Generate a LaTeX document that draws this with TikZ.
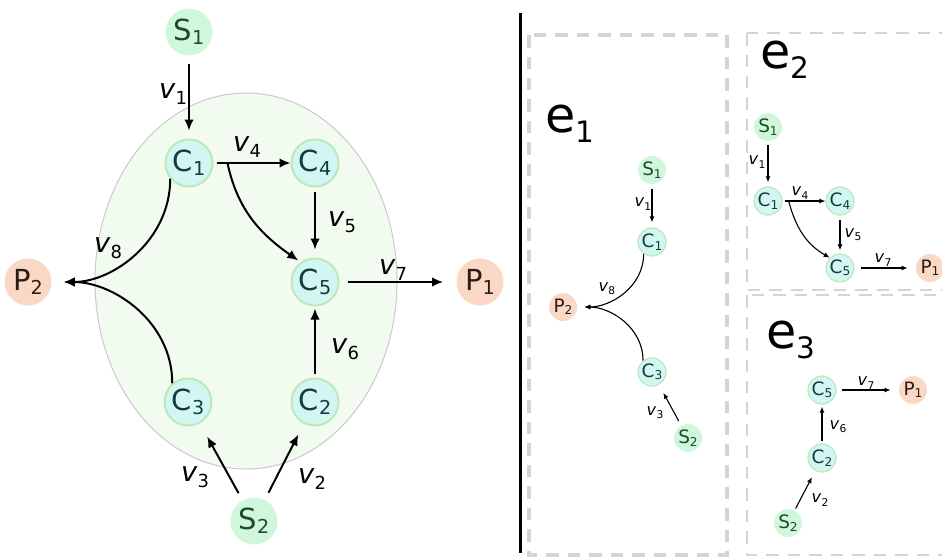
\documentclass[tikz,border=0pt]{standalone}
\usepackage{fontspec}
\setmainfont{DejaVu Sans}
\usetikzlibrary{arrows.meta}
\definecolor{srcfill}{HTML}{D0F6DB}
\definecolor{srctext}{HTML}{1C4A2C}
\definecolor{cfill}{HTML}{D2F7F3}
\definecolor{cline}{HTML}{BEE8B9}
\definecolor{ctext}{HTML}{113C3C}
\definecolor{pfill}{HTML}{FAD8C5}
\definecolor{ptext}{HTML}{2A1D16}
\definecolor{cellfill}{HTML}{F1FBEF}
\definecolor{cellline}{HTML}{CACACA}
\definecolor{boxline}{HTML}{D4D4D4}
\newcommand{\nd}[2]{#1\raisebox{-0.13em}{\scalebox{0.66}{#2}}}
\newcommand{\fl}[1]{\textit{v}\raisebox{-0.2em}{\scalebox{0.66}{#1}}}
\newcommand{\el}[1]{e\raisebox{-0.2em}{\scalebox{0.6}{#1}}}
\begin{document}
\begin{tikzpicture}[x=0.02cm,y=-0.02cm,
  big/.style={circle, inner sep=0pt, minimum size=0.94cm, font=\fontsize{16.5}{19}\selectfont},
  small/.style={circle, inner sep=0pt, minimum size=0.56cm, font=\fontsize{10.5}{12}\selectfont},
  src/.style={fill=srcfill, text=srctext},
  ctr/.style={fill=cfill, draw=cline, text=ctext},
  snk/.style={fill=pfill, text=ptext},
  flow/.style={font=\fontsize{15.5}{18}\selectfont},
  sflow/.style={font=\fontsize{9.2}{11}\selectfont},
  elabel/.style={font=\fontsize{28}{32}\selectfont},
  arr/.style={-{Latex[length=0.22cm,width=0.19cm]}, line width=0.04cm},
  sarr/.style={-{Latex[length=0.12cm,width=0.1cm]}, line width=0.022cm},
  ebox/.style={boxline, dash pattern=on 0.25cm off 0.18cm}]
\useasboundingbox (0,0) rectangle (942,556);

\draw[cellline, fill=cellfill, line width=0.02cm] (246,281) ellipse [x radius=151, y radius=188];
\node[big,src] (S1) at (189,32) {\nd{S}{1}};
\node[big,ctr,line width=0.04cm] (C1) at (189,163) {\nd{C}{1}};
\node[big,ctr,line width=0.04cm] (C4) at (315,163) {\nd{C}{4}};
\node[big,ctr,line width=0.04cm] (C5) at (315,282) {\nd{C}{5}};
\node[big,ctr,line width=0.04cm] (C3) at (188,402) {\nd{C}{3}};
\node[big,ctr,line width=0.04cm] (C2) at (315,402) {\nd{C}{2}};
\node[big,src] (S2) at (254,521) {\nd{S}{2}};
\node[big,snk] (P2) at (28,282) {\nd{P}{2}};
\node[big,snk] (P1) at (480,282) {\nd{P}{1}};
\draw[arr, shorten <=0.16cm, shorten >=0.16cm] (S1) -- (C1);
\draw[arr, shorten <=0.08cm] (C1) -- (C4);
\draw[arr] ([xshift=0.28cm]C1.east) to[out=-78, in=145] ([xshift=-0.04cm,yshift=0.04cm]C5.127);
\draw[arr, shorten <=0.08cm, shorten >=0.16cm] (C4) -- (C5);
\draw[arr, shorten <=0.16cm, shorten >=0.26cm] (C5) -- (P1);
\draw[arr, shorten <=0.08cm, shorten >=0.04cm] (C2) -- (C5);
\draw[arr, shorten >=0.24cm] (C1.220) to[out=-90, in=0] (P2);
\draw[arr, shorten >=0.24cm] (C3.130) to[out=90, in=0] (P2);
\draw[arr, shorten <=0.16cm, shorten >=0.3cm] (S2) -- (C3);
\draw[arr, shorten <=0.16cm, shorten >=0.24cm] (S2) -- (C2);
\node[flow] (v1) at (173,94) {\fl{1}};
\node[flow] (v4) at (247,147) {\fl{4}};
\node[flow] (v5) at (342,222) {\fl{5}};
\node[flow] (v7) at (393,270) {\fl{7}};
\node[flow] (v8) at (108,248) {\fl{8}};
\node[flow] (v6) at (345,349) {\fl{6}};
\node[flow] (v3) at (195,477) {\fl{3}};
\node[flow] (v2) at (312,479) {\fl{2}};

\coordinate (T) at (520,13);
\coordinate (B) at (520,553);
\draw[line width=0.06cm] (T) -- (B);

\draw[ebox, line width=0.08cm] (529,35) rectangle (727,555);
\draw[ebox, line width=0.05cm] (747,33) rectangle (990,290);
\draw[ebox, line width=0.05cm] (747,295) rectangle (990,555);
\node[elabel] (e1) at (570,124) {\el{1}};
\node[elabel] (e2) at (785,60) {\el{2}};
\node[elabel] (e3) at (791,340) {\el{3}};

\node[small,src] (AS1) at (652,170) {\nd{S}{1}};
\node[small,ctr,line width=0.025cm] (AC1) at (652,242) {\nd{C}{1}};
\node[small,snk] (AP2) at (563,307) {\nd{P}{2}};
\node[small,ctr,line width=0.025cm] (AC3) at (652,372) {\nd{C}{3}};
\node[small,src] (AS2) at (688,438) {\nd{S}{2}};
\draw[sarr, shorten <=0.1cm, shorten >=0.1cm] (AS1) -- (AC1);
\draw[sarr, shorten >=0.14cm] (AC1.235) to[out=-90, in=0] (AP2);
\draw[sarr, shorten >=0.14cm] (AC3.128) to[out=90, in=0] (AP2);
\draw[sarr, shorten <=0.1cm, shorten >=0.18cm] (AS2) -- (AC3);
\node[sflow] (av1) at (643,204) {\fl{1}};
\node[sflow] (av8) at (607,289) {\fl{8}};
\node[sflow] (av3) at (655,413) {\fl{3}};

\node[small,src] (BS1) at (768,127) {\nd{S}{1}};
\node[small,ctr,line width=0.025cm] (BC1) at (768,201) {\nd{C}{1}};
\node[small,ctr,line width=0.025cm] (BC4) at (840,201) {\nd{C}{4}};
\node[small,ctr,line width=0.025cm] (BC5) at (840,268) {\nd{C}{5}};
\node[small,snk] (BP1) at (930,268) {\nd{P}{1}};
\draw[sarr, shorten <=0.08cm, shorten >=0.08cm] (BS1) -- (BC1);
\draw[sarr, shorten <=0.04cm] (BC1) -- (BC4);
\draw[sarr] ([xshift=0.12cm]BC1.east) to[out=-75, in=150] (BC5.135);
\draw[sarr, shorten <=0.08cm, shorten >=0.06cm] (BC4) -- (BC5);
\draw[sarr, shorten <=0.12cm, shorten >=0.16cm] (BC5) -- (BP1);
\node[sflow] (bv1) at (757,162) {\fl{1}};
\node[sflow] (bv4) at (800,193) {\fl{4}};
\node[sflow] (bv5) at (853,235) {\fl{5}};
\node[sflow] (bv7) at (883,260) {\fl{7}};

\node[small,ctr,line width=0.025cm] (DC5) at (822,390) {\nd{C}{5}};
\node[small,snk] (DP1) at (913,390) {\nd{P}{1}};
\node[small,ctr,line width=0.025cm] (DC2) at (822,458) {\nd{C}{2}};
\node[small,src] (DS2) at (788,523) {\nd{S}{2}};
\draw[sarr, shorten <=0.1cm, shorten >=0.16cm] (DC5) -- (DP1);
\draw[sarr, shorten <=0.04cm, shorten >=0.04cm] (DC2) -- (DC5);
\draw[sarr, shorten <=0.04cm, shorten >=0.14cm] (DS2) -- (DC2);
\node[sflow] (dv7) at (866,383) {\fl{7}};
\node[sflow] (dv6) at (838,427) {\fl{6}};
\node[sflow] (dv2) at (820,500) {\fl{2}};
\end{tikzpicture}
\end{document}
